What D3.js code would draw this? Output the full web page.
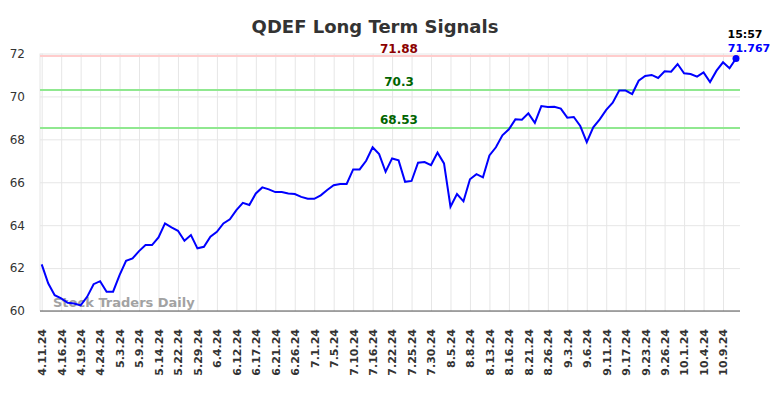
<!DOCTYPE html>
<html>
<head>
<meta charset="utf-8">
<script src="https://cdn.jsdelivr.net/npm/d3@7"></script>
<style>
  body { margin: 0; background: #fff; }
  svg { display: block; font-family: "DejaVu Sans", sans-serif; }
  .grid line { stroke: #e6e6e6; stroke-width: 1; }
  .grid path { display: none; }
</style>
</head>
<body>
<svg id="chart" width="784" height="398"></svg>
<script>
// tick labels, one every 3 points
var tickLabels = ["4.11.24","4.16.24","4.19.24","4.24.24","5.3.24","5.9.24","5.14.24","5.22.24","5.29.24",
    "6.4.24","6.12.24","6.17.24","6.21.24","6.26.24","7.1.24","7.5.24","7.10.24","7.16.24","7.22.24",
    "7.25.24","7.30.24","8.5.24","8.8.24","8.13.24","8.16.24","8.21.24","8.26.24","9.3.24","9.6.24",
    "9.11.24","9.17.24","9.23.24","9.26.24","10.1.24","10.4.24","10.9.24"];

// closing prices
var prices = [62.17,61.29,60.74,60.59,60.38,60.35,60.26,60.66,61.25,61.39,
    60.90,60.90,61.67,62.34,62.45,62.79,63.07,63.07,63.43,64.08,
    63.90,63.74,63.27,63.54,62.92,62.99,63.46,63.69,64.08,64.27,
    64.70,65.04,64.94,65.48,65.76,65.67,65.54,65.54,65.48,65.45,
    65.32,65.23,65.23,65.39,65.64,65.86,65.92,65.92,66.60,66.60,
    67.00,67.63,67.31,66.49,67.11,67.02,66.02,66.06,66.91,66.94,
    66.80,67.38,66.88,64.86,65.45,65.11,66.14,66.38,66.23,67.25,
    67.63,68.19,68.47,68.93,68.91,69.21,68.77,69.55,69.51,69.52,
    69.43,69.01,69.04,68.62,67.87,68.56,68.93,69.37,69.71,70.27,
    70.27,70.11,70.73,70.95,71.00,70.86,71.17,71.15,71.51,71.08,
    71.04,70.92,71.12,70.67,71.20,71.59,71.31,71.767];

var signalValues = [71.88, 70.3, 68.53];
var signalLabels = ["71.88", "70.3", "68.53"];
var yTicks = [60, 62, 64, 66, 68, 70, 72];
var lastTime = "15:57";

var svg = d3.select("#chart");
var plotLeft = 40, plotRight = 740, plotTop = 53.5, plotBottom = 311;

var x = d3.scaleLinear()
    .domain([0, prices.length - 1])
    .range([41.7, 736]);
var y = d3.scaleLinear()
    .domain([60, 72])
    .range([plotBottom, plotTop]);

// title
svg.append("text")
    .attr("x", 375).attr("y", 33)
    .attr("text-anchor", "middle")
    .style("font-size", "18px").style("font-weight", "bold")
    .attr("fill", "#333")
    .text("QDEF Long Term Signals");

// horizontal grid
svg.append("g").attr("class", "grid")
    .attr("transform", "translate(" + plotLeft + ",0)")
    .call(d3.axisLeft(y).tickValues(yTicks).tickSize(-(plotRight - plotLeft)).tickFormat(""));

// vertical grid
var tickIdx = d3.range(0, prices.length, 3);
svg.append("g").attr("class", "grid")
    .attr("transform", "translate(0," + plotBottom + ")")
    .call(d3.axisBottom(x).tickValues(tickIdx).tickSize(-(plotBottom - plotTop)).tickFormat(""));
svg.append("line").attr("x1", plotLeft).attr("x2", plotLeft).attr("y1", plotTop).attr("y2", plotBottom)
    .attr("stroke", "#e6e6e6");

// y labels
var yAxis = svg.append("g")
    .attr("transform", "translate(" + plotLeft + ",0)")
    .call(d3.axisLeft(y).tickValues(yTicks).tickSize(0).tickPadding(15));
yAxis.select(".domain").remove();
yAxis.selectAll("text").style("font-size", "12px").attr("fill", "#333")
    .style("font-family", "DejaVu Sans, sans-serif");

// x labels
var xAxis = svg.append("g")
    .attr("transform", "translate(0," + plotBottom + ")")
    .call(d3.axisBottom(x).tickValues(tickIdx).tickSize(0)
        .tickFormat(function (d) { return tickLabels[d / 3]; }));
xAxis.select(".domain").remove();
xAxis.selectAll("text")
    .attr("transform", "rotate(-90)")
    .attr("text-anchor", "end")
    .attr("x", -18).attr("y", 0).attr("dy", "0.35em")
    .style("font-size", "11px").style("font-weight", "bold")
    .style("font-family", "DejaVu Sans, sans-serif")
    .attr("fill", "#333");

svg.append("line")
    .attr("x1", plotLeft).attr("x2", plotRight).attr("y1", plotBottom).attr("y2", plotBottom)
    .attr("stroke", "#555").attr("stroke-width", 1.2);

// signal lines
var lineColors = ["#ffcccc", "#90e890", "#90e890"];
var textColors = ["#8b0000", "#006400", "#006400"];
signalValues.forEach(function (v, i) {
    svg.append("line")
        .attr("x1", plotLeft).attr("x2", plotRight)
        .attr("y1", y(v)).attr("y2", y(v))
        .attr("stroke", lineColors[i]).attr("stroke-width", 2);
    svg.append("text")
        .attr("x", 399).attr("y", y(v) - 3.5)
        .attr("text-anchor", "middle")
        .style("font-size", "12px").style("font-weight", "bold")
        .attr("fill", textColors[i])
        .text(signalLabels[i]);
});

// watermark
svg.append("text")
    .attr("x", 53).attr("y", 307)
    .style("font-size", "13px").style("font-weight", "bold")
    .attr("fill", "#999").attr("opacity", 0.9)
    .text("Stock Traders Daily");

// price line
var line = d3.line()
    .x(function (d, i) { return x(i); })
    .y(function (d) { return y(d); });
svg.append("path")
    .attr("d", line(prices))
    .attr("fill", "none")
    .attr("stroke", "#0000ff")
    .attr("stroke-width", 2);

var lastI = prices.length - 1;
svg.append("circle")
    .attr("cx", x(lastI)).attr("cy", y(prices[lastI]))
    .attr("r", 3.5).attr("fill", "#0000ff");

svg.append("text")
    .attr("x", 745).attr("y", 38)
    .attr("text-anchor", "middle")
    .style("font-size", "11px").style("font-weight", "bold")
    .attr("fill", "#000")
    .text(lastTime);
svg.append("text")
    .attr("x", 749).attr("y", 52)
    .attr("text-anchor", "middle")
    .style("font-size", "11px").style("font-weight", "bold")
    .attr("fill", "#0000ff")
    .text(prices[lastI]);
</script>
</body>
</html>
